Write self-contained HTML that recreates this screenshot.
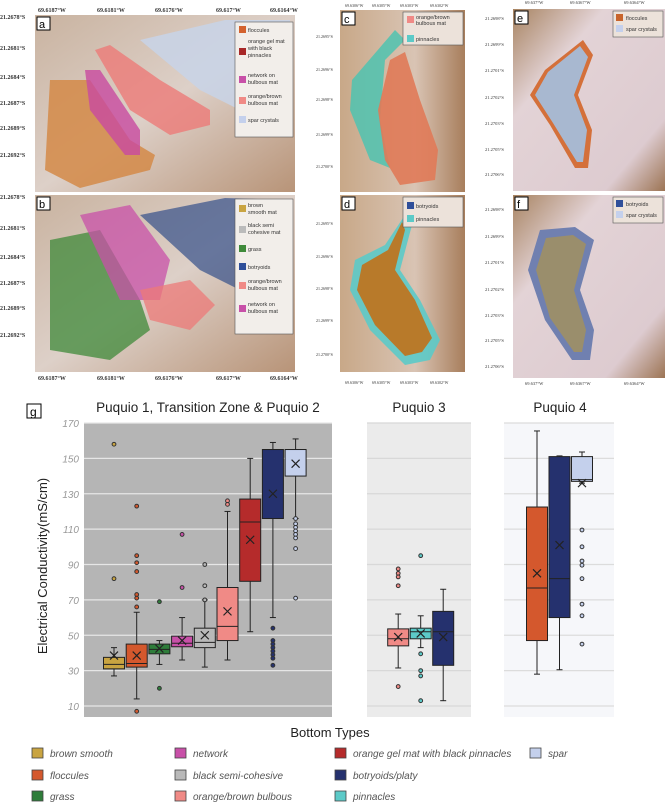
<!DOCTYPE html>
<html><head><meta charset="utf-8"><style>
html,body{margin:0;padding:0;background:#fff;}
svg{display:block;font-family:"Liberation Sans",sans-serif;}
</style></head><body>
<svg id="fig" width="669" height="806" viewBox="0 0 669 806" xmlns="http://www.w3.org/2000/svg">
<defs>
<linearGradient id="sand" x1="0" y1="0" x2="1" y2="1"><stop offset="0" stop-color="#c9b3a0"/><stop offset="0.5" stop-color="#ddd0c8"/><stop offset="1" stop-color="#b89478"/></linearGradient>
<linearGradient id="sand2" x1="0" y1="0" x2="1" y2="0"><stop offset="0" stop-color="#c8a888"/><stop offset="0.6" stop-color="#d9c4b4"/><stop offset="1" stop-color="#a87e5c"/></linearGradient>
<linearGradient id="sand3" x1="0" y1="0" x2="1" y2="1"><stop offset="0" stop-color="#a88462"/><stop offset="0.3" stop-color="#e3d3d6"/><stop offset="0.8" stop-color="#ddcbd0"/><stop offset="1" stop-color="#9c7454"/></linearGradient>
</defs>

<!-- Map a -->
<g>
<rect x="35" y="15" width="260" height="177" fill="url(#sand)"/>
<path d="M140 40 L225 20 L290 20 L290 120 L250 115 L200 90 Z" fill="#c8d4e8" opacity="0.85"/>
<path d="M50 80 L90 80 L130 140 L155 155 L150 170 L80 188 L45 170 Z" fill="#d48a48" opacity="0.85"/>
<path d="M85 70 L100 70 L140 130 L140 155 L125 155 L90 110 Z" fill="#c84aa0" opacity="0.8"/>
<path d="M95 50 L110 45 L160 80 L210 110 L210 125 L170 135 L130 110 Z" fill="#ec7a78" opacity="0.8"/>
<rect x="235" y="22" width="58" height="115" fill="#f2eeea" stroke="#555" stroke-width="0.6"/>
<rect x="239" y="26" width="7" height="7" fill="#d4622e"/><text x="248" y="32" font-size="5.5" fill="#333">floccules</text>
<rect x="239" y="48" width="7" height="7" fill="#a82828"/><text x="248" y="43" font-size="5.5" fill="#333">orange gel mat</text><text x="248" y="50" font-size="5.5" fill="#333">with black</text><text x="248" y="57" font-size="5.5" fill="#333">pinnacles</text>
<rect x="239" y="76" width="7" height="7" fill="#c850a8"/><text x="248" y="77" font-size="5.5" fill="#333">network on</text><text x="248" y="84" font-size="5.5" fill="#333">bulbous mat</text>
<rect x="239" y="97" width="7" height="7" fill="#f08a86"/><text x="248" y="98" font-size="5.5" fill="#333">orange/brown</text><text x="248" y="105" font-size="5.5" fill="#333">bulbous mat</text>
<rect x="239" y="116" width="7" height="7" fill="#c4d0ec"/><text x="248" y="122" font-size="5.5" fill="#333">spar crystals</text>
<rect x="37" y="17" width="13" height="13" fill="#fff" stroke="#000"/><text x="39" y="28" font-size="11">a</text>
</g>
<!-- Map b -->
<g>
<rect x="35" y="195" width="260" height="177" fill="url(#sand)"/>
<path d="M140 215 L225 198 L290 200 L290 290 L240 290 L200 270 Z" fill="#35508a" opacity="0.7"/>
<path d="M50 240 L100 230 L140 300 L150 330 L110 360 L50 350 Z" fill="#3f8a3a" opacity="0.75"/>
<path d="M80 215 L130 205 L170 260 L160 300 L120 300 Z" fill="#c850a8" opacity="0.75"/>
<path d="M140 290 L190 280 L215 305 L190 330 L150 320 Z" fill="#ec7a78" opacity="0.75"/>
<rect x="235" y="199" width="58" height="135" fill="#f2eeea" stroke="#555" stroke-width="0.6"/>
<rect x="239" y="205" width="7" height="7" fill="#c9a441"/><text x="248" y="207" font-size="5.5" fill="#333">brown</text><text x="248" y="214" font-size="5.5" fill="#333">smooth mat</text>
<rect x="239" y="226" width="7" height="7" fill="#bbb"/><text x="248" y="227" font-size="5.5" fill="#333">black semi</text><text x="248" y="234" font-size="5.5" fill="#333">cohesive mat</text>
<rect x="239" y="245" width="7" height="7" fill="#3f8a3a"/><text x="248" y="251" font-size="5.5" fill="#333">grass</text>
<rect x="239" y="263" width="7" height="7" fill="#2f4f9a"/><text x="248" y="269" font-size="5.5" fill="#333">botryoids</text>
<rect x="239" y="282" width="7" height="7" fill="#f08a86"/><text x="248" y="283" font-size="5.5" fill="#333">orange/brown</text><text x="248" y="290" font-size="5.5" fill="#333">bulbous mat</text>
<rect x="239" y="305" width="7" height="7" fill="#c850a8"/><text x="248" y="306" font-size="5.5" fill="#333">network on</text><text x="248" y="313" font-size="5.5" fill="#333">bulbous mat</text>
<rect x="37" y="197" width="13" height="13" fill="#fff" stroke="#000"/><text x="39" y="208" font-size="11">b</text>
</g>
<g font-family="Liberation Serif,serif" font-size="6" font-weight="bold" fill="#333">
<text x="38" y="12">69.6187°W</text><text x="97" y="12">69.6181°W</text><text x="155" y="12">69.6176°W</text><text x="216" y="12">69.617°W</text><text x="270" y="12">69.6164°W</text>
<text x="38" y="380">69.6187°W</text><text x="97" y="380">69.6181°W</text><text x="155" y="380">69.6176°W</text><text x="216" y="380">69.617°W</text><text x="270" y="380">69.6164°W</text>
<text x="0" y="19">21.2678°S</text><text x="0" y="50">21.2681°S</text><text x="0" y="79">21.2684°S</text><text x="0" y="105">21.2687°S</text><text x="0" y="130">21.2689°S</text><text x="0" y="157">21.2692°S</text>
<text x="0" y="199">21.2678°S</text><text x="0" y="230">21.2681°S</text><text x="0" y="259">21.2684°S</text><text x="0" y="285">21.2687°S</text><text x="0" y="310">21.2689°S</text><text x="0" y="337">21.2692°S</text>
</g>
<!-- Map c/d -->
<g>
<rect x="340" y="10" width="125" height="182" fill="url(#sand2)"/>
<path d="M395 30 L405 40 L385 60 L380 120 L390 168 L370 160 L350 110 L352 80 Z" fill="#4fc3b0" opacity="0.85"/>
<path d="M390 60 L405 52 L420 100 L438 150 L435 180 L400 185 L385 160 L378 110 Z" fill="#e07a58" opacity="0.9"/>
<rect x="403" y="12" width="60" height="33" fill="#ece2da" stroke="#555" stroke-width="0.6"/>
<rect x="407" y="16" width="7" height="7" fill="#f08a86"/><text x="416" y="19" font-size="5.5" fill="#333">orange/brown</text><text x="416" y="25" font-size="5.5" fill="#333">bulbous mat</text>
<rect x="407" y="35" width="7" height="7" fill="#5ccac8"/><text x="416" y="41" font-size="5.5" fill="#333">pinnacles</text>
<rect x="342" y="12" width="13" height="13" fill="#fff" stroke="#000"/><text x="344" y="23" font-size="11">c</text>
</g>
<g>
<rect x="340" y="195" width="125" height="177" fill="url(#sand2)"/>
<path d="M405 215 L412 225 L400 270 L420 300 L440 340 L430 360 L405 365 L370 330 L350 290 L355 260 L385 245 Z" fill="#5ccac8" opacity="0.9"/>
<path d="M402 222 L405 230 L395 270 L415 300 L432 338 L422 352 L405 356 L375 325 L357 290 L362 265 L388 250 Z" fill="#b87a2a"/>
<rect x="403" y="197" width="60" height="30" fill="#ece2da" stroke="#555" stroke-width="0.6"/>
<rect x="407" y="202" width="7" height="7" fill="#2f4f9a"/><text x="416" y="208" font-size="5.5" fill="#333">botryoids</text>
<rect x="407" y="215" width="7" height="7" fill="#5ccac8"/><text x="416" y="221" font-size="5.5" fill="#333">pinnacles</text>
<rect x="342" y="197" width="13" height="13" fill="#fff" stroke="#000"/><text x="344" y="208" font-size="11">d</text>
</g>
<g font-family="Liberation Serif,serif" font-size="4" fill="#333">
<text x="345" y="7">69.6306°W</text><text x="372" y="7">69.6305°W</text><text x="400" y="7">69.6303°W</text><text x="430" y="7">69.6302°W</text>
<text x="345" y="384">69.6306°W</text><text x="372" y="384">69.6305°W</text><text x="400" y="384">69.6303°W</text><text x="430" y="384">69.6302°W</text>
<text x="316" y="38">21.2695°S</text><text x="316" y="71">21.2696°S</text><text x="316" y="101">21.2698°S</text><text x="316" y="136">21.2699°S</text><text x="316" y="168">21.2700°S</text>
<text x="316" y="225">21.2695°S</text><text x="316" y="258">21.2696°S</text><text x="316" y="290">21.2698°S</text><text x="316" y="322">21.2699°S</text><text x="316" y="356">21.2700°S</text>
</g>
<!-- Map e/f -->
<g>
<rect x="513" y="9" width="152" height="182" fill="url(#sand3)"/>
<path d="M583 40 L593 55 L578 95 L592 130 L588 168 L575 168 L550 125 L530 95 L545 70 Z" fill="#d4703a"/>
<path d="M580 46 L588 57 L574 95 L587 130 L583 162 L577 162 L553 123 L535 95 L548 72 Z" fill="#a8b8d0"/>
<rect x="613" y="11" width="50" height="26" fill="#ece2da" stroke="#555" stroke-width="0.6"/>
<rect x="616" y="14" width="7" height="7" fill="#c8642c"/><text x="626" y="20" font-size="5.5" fill="#333">floccules</text>
<rect x="616" y="25" width="7" height="7" fill="#c4d0ec"/><text x="626" y="31" font-size="5.5" fill="#333">spar crystals</text>
<rect x="515" y="11" width="13" height="13" fill="#fff" stroke="#000"/><text x="517" y="22" font-size="11">e</text>
</g>
<g>
<rect x="513" y="195" width="152" height="183" fill="url(#sand3)"/>
<path d="M575 227 L594 240 L580 290 L594 330 L590 360 L572 360 L545 320 L528 270 L540 230 Z" fill="#7080b0"/>
<path d="M573 235 L586 244 L574 290 L586 330 L582 352 L574 352 L550 318 L536 270 L546 238 Z" fill="#9a8e6c"/>
<rect x="613" y="197" width="50" height="26" fill="#ece2da" stroke="#555" stroke-width="0.6"/>
<rect x="616" y="200" width="7" height="7" fill="#2f4f9a"/><text x="626" y="206" font-size="5.5" fill="#333">botryoids</text>
<rect x="616" y="211" width="7" height="7" fill="#c4d0ec"/><text x="626" y="217" font-size="5.5" fill="#333">spar crystals</text>
<rect x="515" y="197" width="13" height="13" fill="#fff" stroke="#000"/><text x="517" y="208" font-size="11">f</text>
</g>
<g font-family="Liberation Serif,serif" font-size="4.5" fill="#333">
<text x="525" y="4">69.637°W</text><text x="570" y="4">69.6367°W</text><text x="624" y="4">69.6364°W</text>
<text x="525" y="385">69.637°W</text><text x="570" y="385">69.6367°W</text><text x="624" y="385">69.6364°W</text>
<text x="485" y="20">21.2698°S</text><text x="485" y="46">21.2699°S</text><text x="485" y="72">21.2701°S</text><text x="485" y="99">21.2702°S</text><text x="485" y="125">21.2703°S</text><text x="485" y="151">21.2705°S</text><text x="485" y="176">21.2706°S</text>
<text x="485" y="211">21.2698°S</text><text x="485" y="238">21.2699°S</text><text x="485" y="264">21.2701°S</text><text x="485" y="291">21.2702°S</text><text x="485" y="317">21.2703°S</text><text x="485" y="342">21.2705°S</text><text x="485" y="368">21.2706°S</text>
</g>

<!-- Chart g -->
<g id="chart">
<rect x="27" y="404" width="14" height="14" fill="#fff" stroke="#000"/>
<text x="30" y="416" font-size="12">g</text>
<text x="208" y="412" font-size="13.5" text-anchor="middle" fill="#222">Puquio 1, Transition Zone &amp; Puquio 2</text>
<text x="419" y="412" font-size="13.5" text-anchor="middle" fill="#222">Puquio 3</text>
<text x="560" y="412" font-size="13.5" text-anchor="middle" fill="#222">Puquio 4</text>
<text x="0" y="0" transform="translate(47,566) rotate(-90)" font-size="13" text-anchor="middle" fill="#222">Electrical Conductivity(mS/cm)</text>
<text x="330" y="737" font-size="13" text-anchor="middle" fill="#222">Bottom Types</text>
<g id="plots"></g>
<g id="legend" font-size="10" font-style="italic" fill="#555"></g>
</g>
</svg>
<script>
const ticks=[10,30,50,70,90,110,130,150,170];
const cats1=["brown smooth","floccules","grass","network","black semi-cohesive","orange/brown bulbous","orange gel mat","botryoids/platy","spar"];
const low1=[27,14,33.5,36,32,36,52,60,116];
const q1_1=[31,32,39.5,43.5,43,47,80.5,116,140];
const med1=[33.5,34,42,45.5,46,55,114,155,155];
const q3_1=[37.5,45,45,49.5,54,77,127,155,155];
const high1=[43,63,47,60,70,120,150,159,161];
const mean1=[38.5,38.5,42.5,47,50,63.5,104,130,147];
const out1=[[158,82],[123,95,91,86,73,71,66,7],[69,20],[107,77],[90,78,70],[126,124],[],[54,47,45,43,41,39,37,33],[116,113,111,109,107,105,99,71]];
const cats3=["orange/brown bulbous","pinnacles","botryoids/platy"];
const low3=[31.5,43,13];
const q1_3=[44,48,33];
const med3=[48,52,52];
const q3_3=[53.6,54,63.5];
const high3=[62,61,76];
const mean3=[49,51,49];
const out3=[[87.5,85,83,78,21],[95,39.5,30,27,13],[]];
const cats4=["floccules","botryoids/platy","spar"];
const low4=[28,30.5,136];
const q1_4=[47,60,137];
const med4=[76.7,82,138];
const q3_4=[122.5,151,151];
const high4=[165.5,151.4,153.6];
const mean4=[85,101,136];
const out4=[[],[],[109.5,100,92,89.6,82,67.6,61,45]];
const colors={"brown smooth":"#c9a441","floccules":"#d4582d","grass":"#2e7d3a","network":"#c850a8","black semi-cohesive":"#b9b9b9","orange/brown bulbous":"#f08a86","orange gel mat":"#b52b2b","botryoids/platy":"#25316e","spar":"#c4d0ec","pinnacles":"#5ccac8"};
const legendCats=["brown smooth","network","orange gel mat with black pinnacles","spar","floccules","black semi-cohesive","botryoids/platy","grass","orange/brown bulbous","pinnacles"];
const legendCol=["brown smooth","network","orange gel mat","spar","floccules","black semi-cohesive","botryoids/platy","grass","orange/brown bulbous","pinnacles"];

const NS="http://www.w3.org/2000/svg";
const Y0=423,PX=283/160;
function y(v){return Y0+(170-v)*PX;}
function mk(tag,attrs,parent){const e=document.createElementNS(NS,tag);for(const k in attrs)e.setAttribute(k,attrs[k]);parent.appendChild(e);return e;}
const plots=document.getElementById('plots');
function panel(x0,x1,bg,grid,cats,lo,q1,md,q3,hi,mn,outs,name,labels){
  const g=mk('g',{},plots);
  
  
  const r=mk('rect',{x:x0,y:Y0,width:x1-x0,height:y(10)-Y0+11,fill:bg},g);
  
  
  ticks.forEach(t=>{
    const l=mk('line',{x1:x0,x2:x1,y1:y(t),y2:y(t),stroke:grid,'stroke-width':1.2},g);
    
    
    if(labels){const tx=mk('text',{x:x0-5,y:y(t)+4,'font-size':10,'font-style':'italic','text-anchor':'end',fill:'#999'},g);tx.textContent=t;
      
      }
  });
  const n=cats.length, step=(x1-x0)/(n+ (n===9?1.85:1.1)), start=x0+(n===9?1.3*step:0.85*step)-(n===9?0:0);
  cats.forEach((c,i)=>{
    const cx=(n===9)?x0+30+i*22.7:x0+(x1-x0)*0.3+i*22.5;
    const w=21;
    const bg2=mk('g',{},g);
    
    
    mk('line',{x1:cx,x2:cx,y1:y(hi[i]),y2:y(lo[i]),stroke:'#222','stroke-width':1},bg2);
    mk('line',{x1:cx-3,x2:cx+3,y1:y(hi[i]),y2:y(hi[i]),stroke:'#222','stroke-width':1},bg2);
    mk('line',{x1:cx-3,x2:cx+3,y1:y(lo[i]),y2:y(lo[i]),stroke:'#222','stroke-width':1},bg2);
    mk('rect',{x:cx-w/2,y:y(q3[i]),width:w,height:Math.max(1,y(q1[i])-y(q3[i])),fill:colors[c],stroke:'#222','stroke-width':1},bg2);
    mk('line',{x1:cx-w/2,x2:cx+w/2,y1:y(md[i]),y2:y(md[i]),stroke:'#222','stroke-width':1},bg2);
    const my=y(mn[i]);
    mk('path',{d:`M${cx-4} ${my-4}L${cx+4} ${my+4}M${cx+4} ${my-4}L${cx-4} ${my+4}`,stroke:'#222','stroke-width':1.2,fill:'none'},bg2);
    outs[i].forEach(o=>{
      const c2=mk('circle',{cx:cx,cy:y(o),r:1.9,fill:colors[c],stroke:'#333','stroke-width':1},bg2);
      
      
    });
  });
}
panel(84,332,'#b5b5b5','#e6e6e6',cats1,low1,q1_1,med1,q3_1,high1,mean1,out1,'panel-puquio-1-2',true);
panel(367,471,'#ebebeb','#d8d8d8',cats3,low3,q1_3,med3,q3_3,high3,mean3,out3,'panel-puquio-3',false);
panel(504,614,'#f6f7fa','#dcdcdc',cats4,low4,q1_4,med4,q3_4,high4,mean4,out4,'panel-puquio-4',false);

const leg=document.getElementById('legend');
const lx=[32,175,335,530], ly=[757,779,800];
legendCats.forEach((c,i)=>{
  const col=i<4?i:(i<7?i-4:i-7);
  const row=i<4?0:(i<7?1:2);
  const g=mk('g',{},leg);
  
  
  mk('rect',{x:lx[col],y:ly[row]-9,width:11,height:10,fill:colors[legendCol[i]],stroke:'#444','stroke-width':0.8},g);
  const t=mk('text',{x:lx[col]+18,y:ly[row]},g);t.textContent=c;
});
</script>
</body></html>
